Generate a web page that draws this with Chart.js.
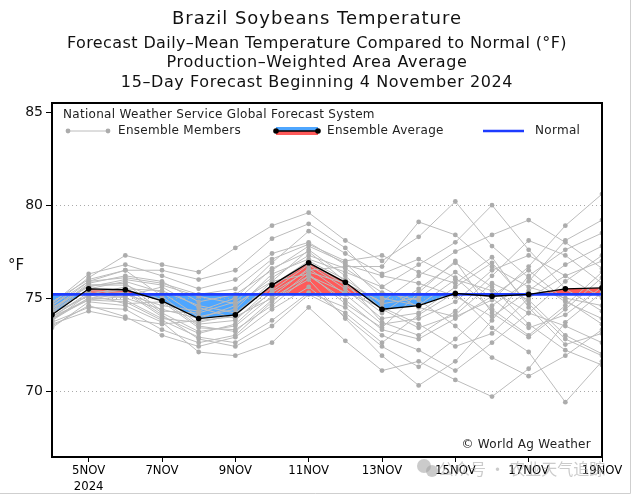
<!DOCTYPE html>
<html>
<head>
<meta charset="utf-8">
<script src="https://cdn.jsdelivr.net/npm/chart.js@4.4.1/dist/chart.umd.min.js"></script>
<style>
  html, body { margin: 0; padding: 0; background: #fff; }
  #tempChart { display: block; }
</style>
</head>
<body>
<canvas id="tempChart" width="634" height="495"></canvas>
<script>
// days of November 2024
const days = [4, 5, 6, 7, 8, 9, 10, 11, 12, 13, 14, 15, 16, 17, 18, 19];
const avgTemp = [74.1, 75.5, 75.45, 74.85, 73.9, 74.1, 75.7, 76.9, 75.85, 74.4, 74.6, 75.25, 75.1, 75.2, 75.5, 75.55];
const normalTemp = [75.2, 75.2, 75.2, 75.2, 75.2, 75.2, 75.2, 75.2, 75.2, 75.2, 75.2, 75.2, 75.2, 75.2, 75.2, 75.2];

// ensemble members (approximate)
const m01 = [74.3, 75.8, 76.2, 75.9, 74.8, 75.2, 76.5, 77.8, 76.9, 75.0, 74.6, 76.0, 75.4, 74.2, 73.5, 72.6];
const m02 = [73.8, 75.2, 75.6, 74.2, 73.2, 73.5, 75.1, 76.6, 75.2, 73.6, 73.9, 74.8, 76.5, 77.3, 76.2, 75.0];
const m03 = [74.6, 76.1, 77.3, 76.8, 76.4, 77.7, 78.9, 79.6, 78.1, 77.0, 78.3, 80.2, 77.8, 76.1, 74.8, 73.9];
const m04 = [73.5, 74.6, 74.0, 73.0, 72.4, 72.9, 74.4, 75.6, 74.0, 72.4, 71.3, 72.8, 74.6, 75.9, 78.1, 79.2];
const m05 = [74.1, 75.5, 75.9, 75.3, 74.0, 74.4, 76.3, 77.1, 76.4, 75.6, 76.8, 78.0, 80.0, 77.6, 75.5, 74.3];
const m06 = [74.0, 74.9, 74.8, 73.8, 72.9, 72.6, 73.8, 75.3, 74.5, 73.0, 72.2, 71.1, 72.6, 74.2, 75.9, 77.3];
const m07 = [74.4, 75.9, 76.5, 75.1, 73.6, 73.8, 75.6, 76.9, 75.7, 74.2, 75.5, 76.9, 75.6, 73.6, 72.2, 71.4];
const m08 = [73.9, 75.0, 75.2, 74.6, 74.3, 75.0, 76.9, 78.6, 77.4, 76.3, 77.1, 76.1, 74.4, 73.0, 74.6, 76.4];
const m09 = [74.2, 75.7, 75.7, 74.9, 73.5, 73.2, 74.9, 76.0, 73.9, 71.9, 70.3, 71.6, 73.8, 76.2, 77.6, 78.5];
const m10 = [73.7, 74.5, 74.4, 73.3, 72.6, 73.0, 74.8, 76.4, 75.8, 74.8, 76.2, 77.5, 78.4, 79.2, 78.0, 76.6];
const m11 = [74.5, 75.6, 76.0, 75.7, 75.1, 74.7, 75.9, 77.6, 76.2, 74.4, 73.4, 74.1, 75.8, 74.9, 73.0, 72.0];
const m12 = [74.0, 75.3, 75.0, 74.4, 73.9, 74.6, 76.1, 77.3, 76.6, 75.3, 74.9, 73.5, 71.8, 70.8, 71.9, 73.3];
const m13 = [74.7, 76.3, 76.8, 76.2, 75.5, 76.0, 77.4, 78.0, 76.8, 76.2, 75.8, 75.1, 74.0, 75.4, 76.8, 77.8];
const m14 = [73.6, 74.3, 73.9, 73.6, 73.8, 74.0, 75.0, 76.2, 74.9, 73.3, 72.8, 73.9, 75.1, 76.5, 74.9, 73.6];
const m15 = [74.3, 75.4, 75.3, 74.0, 73.1, 73.6, 75.4, 76.8, 75.5, 73.9, 74.2, 75.6, 76.9, 74.7, 72.8, 71.9];
const m16 = [74.2, 75.1, 75.5, 75.4, 74.6, 74.2, 75.7, 77.0, 76.0, 74.7, 75.0, 76.4, 75.0, 73.4, 74.1, 75.6];
const m17 = [73.4, 74.8, 74.6, 73.7, 72.1, 71.9, 72.6, 74.5, 72.7, 71.1, 71.6, 70.6, 69.7, 71.2, 73.7, 75.3];
const m18 = [74.8, 76.0, 76.5, 76.5, 76.0, 76.5, 78.2, 79.0, 77.7, 75.6, 74.5, 74.0, 74.9, 76.7, 78.9, 80.6];
const m19 = [74.0, 75.2, 74.7, 74.8, 73.4, 73.3, 74.6, 76.2, 75.3, 74.5, 73.6, 72.4, 73.1, 75.0, 76.2, 77.0];
const m20 = [74.4, 75.7, 75.8, 74.3, 74.2, 74.8, 76.6, 77.5, 75.9, 73.7, 73.0, 74.3, 76.2, 78.1, 77.3, 75.8];
const m21 = [73.9, 74.9, 75.1, 75.6, 74.5, 73.9, 75.3, 76.5, 76.7, 76.7, 79.1, 78.4, 76.7, 75.6, 75.0, 74.6];
const m22 = [74.1, 75.5, 75.4, 74.1, 72.8, 72.4, 73.5, 75.2, 74.2, 72.6, 74.1, 75.3, 73.4, 72.1, 69.4, 71.6];
const m23 = [74.6, 75.9, 76.1, 75.8, 75.2, 75.5, 77.1, 77.9, 77.0, 77.3, 76.4, 75.8, 77.2, 74.5, 72.5, 73.1];
const m24 = [73.8, 75.0, 74.9, 73.9, 73.7, 74.1, 75.9, 76.3, 74.7, 73.4, 75.3, 77.0, 74.2, 72.9, 74.4, 76.1];
const members = [m01, m02, m03, m04, m05, m06, m07, m08, m09, m10, m11, m12,
                 m13, m14, m15, m16, m17, m18, m19, m20, m21, m22, m23, m24];

const xTickDays = [5, 7, 9, 11, 13, 15, 17, 19];
const yTickVals = [70, 75, 80, 85];
const gridVals = [70, 75, 80];

const titleLines = [
  'Brazil Soybeans Temperature',
  'Forecast Daily\u2013Mean Temperature Compared to Normal (\u00b0F)',
  'Production\u2013Weighted Area Average',
  '15\u2013Day Forecast Beginning 4 November 2024'
];

const RED = '#ff5a5a';
const BLUE_FILL = '#4ea6ff';
const NORMAL_BLUE = '#1d3bff';
const GRAY = '#bcbcbc';
const FONT = '"DejaVu Sans", sans-serif';

function pts(arr) {
  return days.map((d, i) => ({ x: d, y: arr[i] }));
}

const datasets = [
  {
    label: 'Ensemble Average',
    data: pts(avgTemp),
    borderColor: '#000',
    borderWidth: 1.3,
    pointRadius: 2.8,
    pointBackgroundColor: '#000',
    pointBorderWidth: 0,
    fill: { target: 1, above: RED, below: BLUE_FILL },
    tension: 0
  },
  {
    label: 'Normal',
    data: pts(normalTemp),
    borderColor: NORMAL_BLUE,
    borderWidth: 2.6,
    pointRadius: 0,
    fill: false
  }
];
members.forEach((m, i) => {
  datasets.push({
    label: 'member' + (i + 1),
    data: pts(m),
    borderColor: GRAY,
    borderWidth: 1,
    pointRadius: 2.4,
    pointBackgroundColor: '#acacac',
    pointBorderWidth: 0,
    fill: false
  });
});

// titles, frame, dotted grid, legend and notes
const decor = {
  id: 'decor',
  beforeDatasetsDraw(chart) {
    const { ctx, chartArea: a, scales: { y } } = chart;
    ctx.save();
    ctx.strokeStyle = '#aaa';
    ctx.lineWidth = 1;
    ctx.setLineDash([1, 3]);
    gridVals.forEach(v => {
      const py = Math.round(y.getPixelForValue(v)) + 0.5;
      ctx.beginPath();
      ctx.moveTo(a.left, py);
      ctx.lineTo(a.right, py);
      ctx.stroke();
    });
    ctx.restore();
  },
  afterDraw(chart) {
    const { ctx, chartArea: a } = chart;
    ctx.save();
    // outer light frame
    ctx.strokeStyle = '#cfcfcf';
    ctx.lineWidth = 1;
    ctx.beginPath();
    ctx.moveTo(630.5, 0);
    ctx.lineTo(630.5, 493.5);
    ctx.lineTo(0, 493.5);
    ctx.stroke();

    // plot frame
    ctx.strokeStyle = '#000';
    ctx.lineWidth = 2;
    ctx.strokeRect(a.left, a.top, a.right - a.left, a.bottom - a.top);

    // titles
    ctx.fillStyle = '#111';
    ctx.textAlign = 'center';
    ctx.textBaseline = 'middle';
    ctx.font = '18px ' + FONT;
    ctx.letterSpacing = '1px';
    ctx.fillText(titleLines[0], 317, 19);
    ctx.font = '16px ' + FONT;
    ctx.letterSpacing = '0.4px';
    ctx.fillText(titleLines[1], 317, 44);
    ctx.letterSpacing = '0.6px';
    ctx.fillText(titleLines[2], 317, 63);
    ctx.fillText(titleLines[3], 317, 83);
    ctx.letterSpacing = '0px';

    // y unit
    ctx.font = '15px ' + FONT;
    ctx.fillText('\u00b0F', 16, 266);

    // legend
    ctx.textAlign = 'left';
    ctx.font = '12px ' + FONT;
    ctx.letterSpacing = '0.3px';
    ctx.fillStyle = '#222';
    ctx.fillText('National Weather Service Global Forecast System', 63, 115);

    const ly = 131;
    ctx.strokeStyle = GRAY;
    ctx.lineWidth = 1;
    ctx.beginPath();
    ctx.moveTo(68, ly);
    ctx.lineTo(108, ly);
    ctx.stroke();
    ctx.fillStyle = '#acacac';
    [68, 108].forEach(px => {
      ctx.beginPath();
      ctx.arc(px, ly, 2.4, 0, Math.PI * 2);
      ctx.fill();
    });
    ctx.fillStyle = '#222';
    ctx.fillText('Ensemble Members', 118, ly);

    ctx.fillStyle = BLUE_FILL;
    ctx.fillRect(276, ly - 4, 42, 4);
    ctx.fillStyle = RED;
    ctx.fillRect(276, ly, 42, 4);
    ctx.strokeStyle = '#000';
    ctx.lineWidth = 1.3;
    ctx.beginPath();
    ctx.moveTo(276, ly);
    ctx.lineTo(318, ly);
    ctx.stroke();
    ctx.fillStyle = '#000';
    [276, 318].forEach(px => {
      ctx.beginPath();
      ctx.arc(px, ly, 2.8, 0, Math.PI * 2);
      ctx.fill();
    });
    ctx.fillStyle = '#222';
    ctx.fillText('Ensemble Average', 327, ly);

    ctx.strokeStyle = NORMAL_BLUE;
    ctx.lineWidth = 2.6;
    ctx.beginPath();
    ctx.moveTo(483, ly);
    ctx.lineTo(524, ly);
    ctx.stroke();
    ctx.fillText('Normal', 535, ly);

    // credit
    ctx.textAlign = 'right';
    ctx.fillText('\u00a9 World Ag Weather', 591, 445);
    ctx.letterSpacing = '0px';

    // watermark
    ctx.fillStyle = 'rgba(160,160,160,0.55)';
    ctx.beginPath();
    ctx.arc(424, 466, 7, 0, Math.PI * 2);
    ctx.fill();
    ctx.beginPath();
    ctx.arc(432, 471, 6, 0, Math.PI * 2);
    ctx.fill();
    ctx.textAlign = 'left';
    ctx.font = '16px "Noto Sans CJK SC", sans-serif';
    ctx.fillText('\u516c\u4f17\u53f7 \u00b7 \u519c\u4e1a\u5929\u6c14\u8ffd\u8e2a', 438, 469);
    ctx.restore();
  }
};

const ctx = document.getElementById('tempChart').getContext('2d');
const tempChart = new Chart(ctx, {
  type: 'line',
  data: { datasets: datasets },
  options: {
    responsive: false,
    animation: false,
    layout: { padding: { top: 103, right: 32, bottom: 0, left: 0 } },
    plugins: {
      legend: { display: false },
      tooltip: { enabled: false },
      filler: { drawTime: 'beforeDatasetsDraw' }
    },
    scales: {
      x: {
        type: 'linear',
        min: 4,
        max: 19,
        afterFit: s => { s.height = 38; },
        afterBuildTicks: s => { s.ticks = xTickDays.map(v => ({ value: v })); },
        grid: { display: true, drawOnChartArea: false, drawTicks: true, tickLength: 5, color: '#000' },
        border: { display: true, color: '#000', width: 2 },
        ticks: {
          maxRotation: 0,
          padding: 1,
          color: '#000',
          font: { family: '"Liberation Sans Narrow", "DejaVu Sans Condensed", sans-serif', size: 13 },
          callback: v => (v === 5 ? ['5NOV', '2024'] : v + 'NOV')
        }
      },
      y: {
        min: 66.45,
        max: 85.5,
        afterFit: s => { s.width = 52; },
        afterBuildTicks: s => { s.ticks = yTickVals.map(v => ({ value: v })); },
        grid: { display: true, drawOnChartArea: false, drawTicks: true, tickLength: 6, color: '#000' },
        border: { display: true, color: '#000', width: 2 },
        ticks: {
          padding: 3,
          color: '#111',
          font: { family: FONT, size: 14 }
        }
      }
    }
  },
  plugins: [decor]
});
</script>
</body>
</html>
